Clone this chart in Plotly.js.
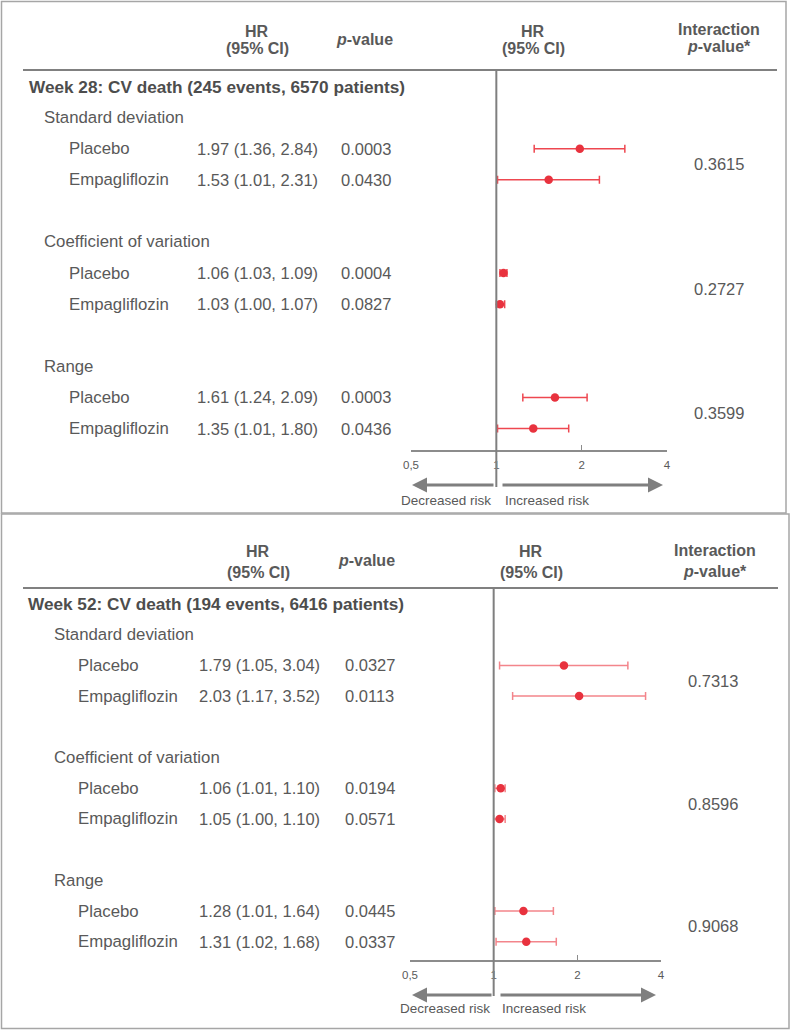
<!DOCTYPE html>
<html>
<head>
<meta charset="utf-8">
<script src="https://cdn.plot.ly/plotly-3.0.1.min.js"></script>
<style>
  html, body { margin: 0; padding: 0; background: #ffffff; }
  #chart { width: 791px; height: 1030px; }
</style>
</head>
<body>
<div id="chart"></div>
<script>
// ---------------- data ----------------
var groups = ['Standard deviation', 'Coefficient of variation', 'Range'];
var arms = ['Placebo', 'Empagliflozin'];

var w28Title = 'Week 28: CV death (245 events, 6570 patients)';
var w28HR = [1.97, 1.53, 1.06, 1.03, 1.61, 1.35];
var w28Lo = [1.36, 1.01, 1.03, 1.00, 1.24, 1.01];
var w28Hi = [2.84, 2.31, 1.09, 1.07, 2.09, 1.80];
var w28P = ['0.0003', '0.0430', '0.0004', '0.0827', '0.0003', '0.0436'];
var w28Int = ['0.3615', '0.2727', '0.3599'];

var w52Title = 'Week 52: CV death (194 events, 6416 patients)';
var w52HR = [1.79, 2.03, 1.06, 1.05, 1.28, 1.31];
var w52Lo = [1.05, 1.17, 1.01, 1.00, 1.01, 1.02];
var w52Hi = [3.04, 3.52, 1.10, 1.10, 1.64, 1.68];
var w52P = ['0.0327', '0.0113', '0.0194', '0.0571', '0.0445', '0.0337'];
var w52Int = ['0.7313', '0.8596', '0.9068'];

var tickVals = [0.5, 1, 2, 4];
var tickText = ['0,5', '1', '2', '4'];

// ---------------- layout helpers ----------------
var W = 791, H = 1030;
var FONT = 'Liberation Sans, Arial, Helvetica, sans-serif';
var TXT = '#595959';
function px(x) { return x / W; }
function py(y) { return 1 - y / H; }

var panels = [
  { title: w28Title, hr: w28HR, lo: w28Lo, hi: w28Hi, p: w28P, inter: w28Int,
    xa: 'x', ya: 'y', xName: 'xaxis', yName: 'yaxis',
    box: [1.5, 1.5, 786, 513], axTop: 70, axBot: 450, plotX0: 411, plotX1: 667,
    base: 86.5, step: 31.1, refBottom: 487,
    hdrHR: [257, 31, 48], hdrP: [364, 39], hdrHR2: [533, 31, 48], hdrInt: [719, 30, 47],
    hdrLine: [23, 777],
    xWeek: 27, xGroup: 42, xArm: 67, xHR: 195, xP: 339, xInt: 719,
    arrowY: 485, arrowTxtY: 500, lArrow: [412, 495], rArrow: [501, 663], lTxt: 446, rTxt: 547,
    errColor: '#ee4750' },
  { title: w52Title, hr: w52HR, lo: w52Lo, hi: w52Hi, p: w52P, inter: w52Int,
    xa: 'x2', ya: 'y2', xName: 'xaxis2', yName: 'yaxis2',
    box: [1.5, 514, 789, 1028.5], axTop: 588, axBot: 960, plotX0: 410, plotX1: 661,
    base: 604, step: 30.7, refBottom: 996,
    hdrHR: [258, 551, 572], hdrP: [366, 560], hdrHR2: [531, 551, 572], hdrInt: [715, 550, 571],
    hdrLine: [23, 778],
    xWeek: 26, xGroup: 52, xArm: 76, xHR: 197, xP: 343, xInt: 713,
    arrowY: 995, arrowTxtY: 1008, lArrow: [412, 493], rArrow: [499, 656], lTxt: 445, rTxt: 544,
    errColor: '#f3858b' }
];

var traces = [];
var annotations = [];
var shapes = [];
var layout = {
  width: W, height: H,
  margin: { l: 0, r: 0, t: 0, b: 0 },
  paper_bgcolor: '#ffffff', plot_bgcolor: 'rgba(0,0,0,0)',
  showlegend: false, hovermode: false,
  font: { family: FONT, color: TXT }
};

function txt(x, y, text, anchor, size, extra) {
  var a = {
    xref: 'paper', yref: 'paper', x: px(x), y: py(y), text: text,
    showarrow: false, xanchor: anchor || 'left', yanchor: 'middle',
    font: { family: FONT, size: size || 16.5, color: TXT }
  };
  if (extra) for (var k in extra) a[k] = extra[k];
  return a;
}

panels.forEach(function (P) {
  function rowY(k) { return P.base + P.step * k; }

  // axes
  layout[P.xName] = {
    type: 'log', range: [Math.log10(0.5), Math.log10(4)],
    domain: [px(P.plotX0), px(P.plotX1)], anchor: P.ya,
    tickvals: tickVals, ticktext: tickText,
    ticks: 'inside', ticklen: 5, tickwidth: 1.5, tickcolor: '#8c8c8c',
    ticklabelstandoff: 4,
    showline: true, linecolor: '#8c8c8c', linewidth: 1.5,
    showgrid: false, zeroline: false, fixedrange: true,
    tickfont: { family: FONT, size: 11.5, color: TXT }
  };
  layout[P.yName] = {
    range: [P.axBot, P.axTop], domain: [py(P.axBot), py(P.axTop)],
    anchor: P.xa, visible: false, fixedrange: true
  };

  // border of the panel
  shapes.push({ type: 'rect', xref: 'paper', yref: 'paper',
    x0: px(P.box[0]), x1: px(P.box[2]), y0: py(P.box[1]), y1: py(P.box[3]),
    line: { color: '#a6a6a6', width: 1.5 } });
  // header rule
  shapes.push({ type: 'line', xref: 'paper', yref: 'paper',
    x0: px(P.hdrLine[0]), x1: px(P.hdrLine[1]), y0: py(P.axTop), y1: py(P.axTop),
    line: { color: '#808080', width: 2 } });
  // reference line at HR = 1
  shapes.push({ type: 'line', xref: P.xa, yref: 'paper',
    x0: 1, x1: 1, y0: py(P.refBottom), y1: py(P.axTop),
    line: { color: '#7f7f7f', width: 2 } });

  // headers
  annotations.push(txt(P.hdrHR[0], P.hdrHR[1], '<b>HR</b>', 'center', 16));
  annotations.push(txt(P.hdrHR[0], P.hdrHR[2], '<b>(95% CI)</b>', 'center', 16));
  annotations.push(txt(P.hdrP[0], P.hdrP[1], '<b><i>p</i>-value</b>', 'center', 16));
  annotations.push(txt(P.hdrHR2[0], P.hdrHR2[1], '<b>HR</b>', 'center', 16));
  annotations.push(txt(P.hdrHR2[0], P.hdrHR2[2], '<b>(95% CI)</b>', 'center', 16));
  annotations.push(txt(P.hdrInt[0], P.hdrInt[1], '<b>Interaction</b>', 'center', 16));
  annotations.push(txt(P.hdrInt[0], P.hdrInt[2], '<b><i>p</i>-value*</b>', 'center', 16));

  // section title
  annotations.push(txt(P.xWeek, rowY(0), '<b>' + P.title + '</b>', 'left', 17.2,
    { font: { family: FONT, size: 17.2, color: '#4d4d4d' } }));

  var ys = [];
  groups.forEach(function (g, gi) {
    annotations.push(txt(P.xGroup, rowY(1 + 4 * gi), g, 'left', 16.8));
    arms.forEach(function (a, ai) {
      var i = gi * 2 + ai;
      var k = 2 + 4 * gi + ai;
      ys.push(rowY(k));
      annotations.push(txt(P.xArm, rowY(k), a, 'left', 16.8));
      annotations.push(txt(P.xHR, rowY(k),
        P.hr[i].toFixed(2) + ' (' + P.lo[i].toFixed(2) + ', ' + P.hi[i].toFixed(2) + ')', 'left', 16.5));
      annotations.push(txt(P.xP, rowY(k), P.p[i], 'left', 16.5));
    });
    annotations.push(txt(P.xInt, (rowY(2 + 4 * gi) + rowY(3 + 4 * gi)) / 2, P.inter[gi], 'center', 16.5));
  });

  // arrows and their labels
  annotations.push({ xref: 'paper', yref: 'paper', x: px(P.lArrow[0]), y: py(P.arrowY),
    ax: P.lArrow[1] - P.lArrow[0], ay: 0, axref: 'pixel', ayref: 'pixel', text: '',
    showarrow: true, arrowhead: 2, arrowsize: 1, arrowwidth: 3, arrowcolor: '#7f7f7f', standoff: 0 });
  annotations.push({ xref: 'paper', yref: 'paper', x: px(P.rArrow[1]), y: py(P.arrowY),
    ax: P.rArrow[0] - P.rArrow[1], ay: 0, axref: 'pixel', ayref: 'pixel', text: '',
    showarrow: true, arrowhead: 2, arrowsize: 1, arrowwidth: 3, arrowcolor: '#7f7f7f', standoff: 0 });
  annotations.push(txt(P.lTxt, P.arrowTxtY, 'Decreased risk', 'center', 13.5));
  annotations.push(txt(P.rTxt, P.arrowTxtY, 'Increased risk', 'center', 13.5));

  // estimates with CIs
  traces.push({
    type: 'scatter', mode: 'markers', xaxis: P.xa, yaxis: P.ya,
    x: P.hr, y: ys,
    marker: { color: '#e8323e', size: 8.5, symbol: 'circle' },
    error_x: {
      type: 'data', symmetric: false,
      array: P.hr.map(function (v, i) { return P.hi[i] - v; }),
      arrayminus: P.hr.map(function (v, i) { return v - P.lo[i]; }),
      color: P.errColor, thickness: 1.5, width: 4
    },
    cliponaxis: false, hoverinfo: 'skip'
  });
});

layout.annotations = annotations;
layout.shapes = shapes;

Plotly.newPlot('chart', traces, layout, { staticPlot: true, displayModeBar: false });
</script>
</body>
</html>
